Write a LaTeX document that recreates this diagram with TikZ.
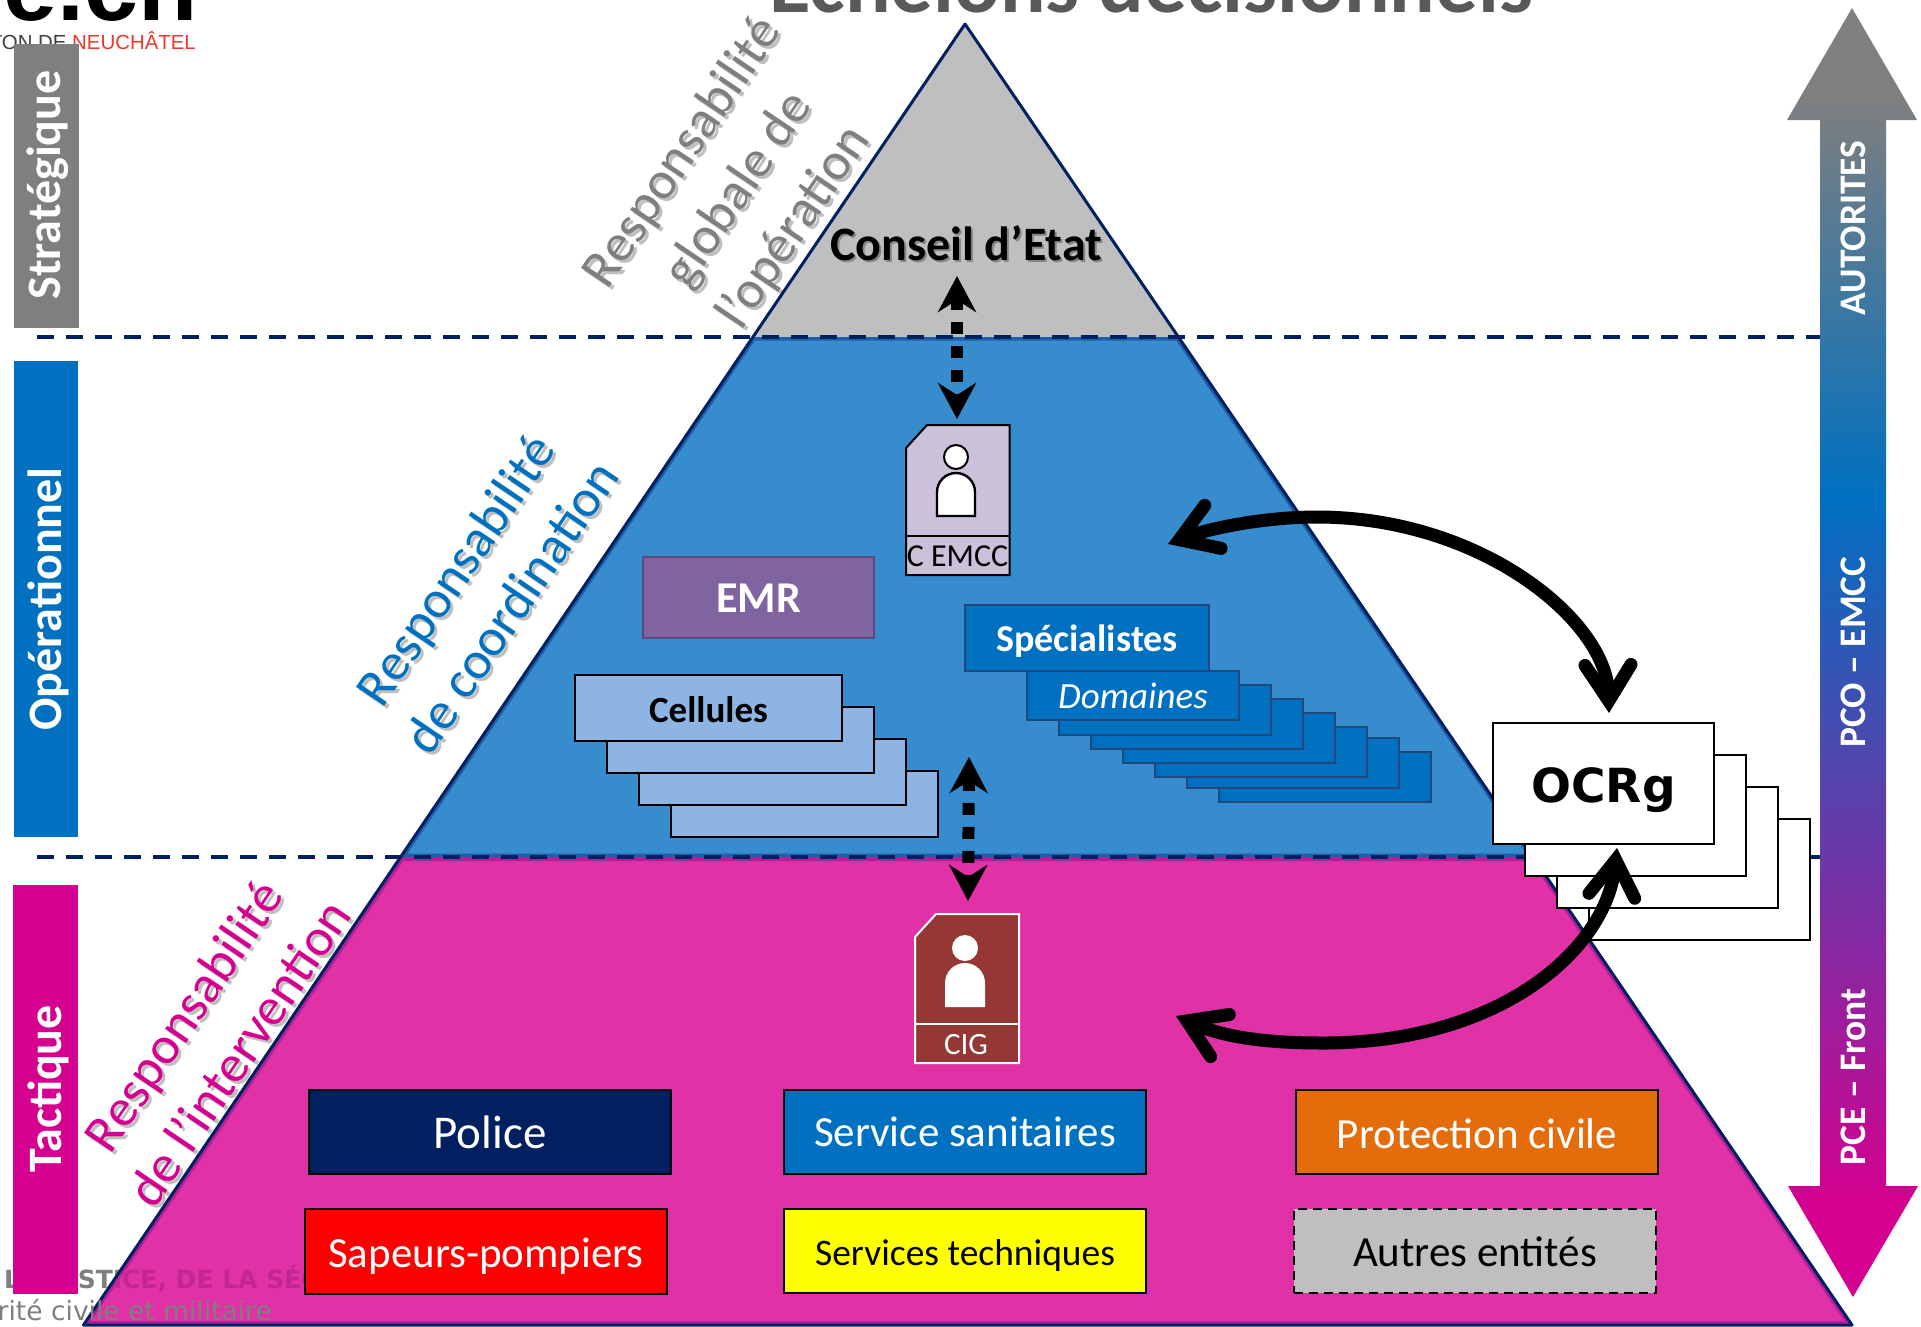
\documentclass[tikz,border=0pt]{standalone}
\usepackage{fontspec}
\setmainfont{Carlito}
\newfontfamily\dvs{DejaVu Sans}
\newfontfamily\libs{Liberation Sans}
\usetikzlibrary{arrows.meta}
\definecolor{navy}{HTML}{002060}
\definecolor{gy}{HTML}{7F7F7F}
\definecolor{lgy}{HTML}{BFBFBF}
\definecolor{bl}{HTML}{0070C0}
\definecolor{pk}{HTML}{D5008F}
\definecolor{midblue}{HTML}{368CCD}
\definecolor{midpink}{HTML}{E031A6}
\definecolor{edgepink}{HTML}{B0209A}
\definecolor{deptpink}{HTML}{C2268F}
\definecolor{edgeblue}{HTML}{1F5FA8}
\definecolor{stackedge}{HTML}{1F497D}
\definecolor{cell}{HTML}{8EB4E3}
\definecolor{lil}{HTML}{CCC1DA}
\definecolor{brick}{HTML}{953735}
\definecolor{emr}{HTML}{8064A2}
\definecolor{emredge}{HTML}{5F497A}
\definecolor{orng}{HTML}{E46C0A}
\definecolor{pureyellow}{HTML}{FFFF00}
\definecolor{purered}{HTML}{FF0000}
\definecolor{logored}{HTML}{E8392D}
\pgfdeclareverticalshading{vgrad}{100bp}{color(0bp)=(pk); color(28.5bp)=(pk); color(56bp)=(bl); color(71.5bp)=(gy); color(100bp)=(gy)}
\newcommand{\fsz}[1]{\fontsize{#1}{#1}\selectfont}
\newcommand{\tall}[1]{\rule{0pt}{#1pt}}
\tikzset{
  x=1pt,y=-1pt,
  zone/.style={inner sep=0pt,outer sep=0pt},
  sidebar/.style={text=white,font=\fsz{48}\bfseries,rotate=90,inner sep=0pt},
  axislabel/.style={text=white,font=\fsz{37.5}\bfseries,rotate=90,inner sep=0pt},
  level/.style={draw=navy,line width=3.6pt,dash pattern=on 17pt off 12pt},
  stackcell/.style={draw=black,line width=2pt,fill=cell},
  stackdom/.style={draw=stackedge,line width=2pt,fill=bl},
  stackocr/.style={draw=black,line width=2pt,fill=white},
  entity/.style={draw=black,line width=2.4pt,font=\fsz{43},inner sep=0pt},
  resp/.style={rotate=56,align=center,font=\fsz{53},inner sep=0pt},
  link/.style={line width=12pt,dash pattern=on 12pt off 12pt,{Stealth[length=36pt,width=38pt,inset=12pt]}-{Stealth[length=36pt,width=38pt,inset=12pt]}},
  bigarrow/.style={line width=13pt,{Straight Barb[length=36pt,width=46pt,line cap=round,line join=miter]}-{Straight Barb[length=36pt,width=46pt,line cap=round,line join=miter]}},
}
\begin{document}
\begin{tikzpicture}
\useasboundingbox (0,0) rectangle (1921,1326);
\clip (0,0) rectangle (1921,1326);
% logo
\node[anchor=base east,inner sep=0pt,font=\libs\bfseries\fsz{97}] (logo) at (198,20) {ne.ch};
\node[anchor=base east,inner sep=0pt,font=\libs\fsz{20.4}] (canton) at (196,49) {\textcolor{black!75}{CANTON DE }\textcolor{logored}{NEUCHÂTEL}};
% title
\node[anchor=base,inner sep=0pt,text=black!65,font=\fsz{85}\bfseries] (title) at (1151,12) {Echelons décisionnels};
% footer under the pyramid
\node[anchor=base west,inner sep=0pt,text=gy,font=\dvs\bfseries\fsz{25}] (dept) at (4,1288) {LA JUSTICE, DE LA SÉCURITÉ};
% pyramid
\coordinate (apex) at (965,24);
\coordinate (gl) at (753,337);
\coordinate (gr) at (1178,337);
\coordinate (bl1) at (401,857);
\coordinate (br1) at (1533,857);
\coordinate (bl2) at (83.5,1325);
\coordinate (br2) at (1852,1325);
\fill[lgy] (apex) -- (gl) -- (gr) -- cycle;
\begin{scope}
\clip (gl) -- (gr) -- (br1) -- (bl1) -- cycle;
\draw[fill=midblue,draw=edgeblue,line width=7pt] (gl) -- (gr) -- (br1) -- (bl1) -- cycle;
\end{scope}
\begin{scope}
\clip (bl1) -- (br1) -- (br2) -- (bl2) -- cycle;
\draw[fill=midpink,draw=edgepink,line width=8pt] (bl1) -- (br1) -- (br2) -- (bl2) -- cycle;
\node[anchor=base west,inner sep=0pt,text=deptpink,font=\dvs\bfseries\fsz{25}] (deptb) at (4,1288) {LA JUSTICE, DE LA SÉCURITÉ};
\end{scope}
\draw[navy,line width=3pt,line join=round] (bl2) -- (apex) -- (br2) -- cycle;
\node[anchor=base east,inner sep=0pt,text=gy,font=\dvs\fsz{26.5}] (serv) at (272,1320) {rité civile et militaire};
% levels
\coordinate (d1a) at (37,337);
\coordinate (d1b) at (1825,337);
\coordinate (d2a) at (37,857);
\coordinate (d2b) at (1825,857);
\draw[level] (d1a) -- (d1b);
\draw[level] (d2a) -- (d2b);
% side bars
\fill[gy] (14,44) rectangle (79,328);
\fill[bl] (14,361) rectangle (78,837);
\fill[pk] (13,885) rectangle (78,1294);
\node[sidebar] (strat) at (48,185) {Stratégique};
\node[sidebar] (oper) at (48,599) {Opérationnel};
\node[sidebar] (tact) at (48,1089) {Tactique};
% side responsibility labels
\node[resp,text=black,opacity=.25] (r1s) at (742,193) {Responsabilité\\[14pt]globale de\\[14pt]l’opération};
\node[resp,text=gy] (r1) at (739,190) {Responsabilité\\[14pt]globale de\\[14pt]l’opération};
\node[resp,text=black,opacity=.25] (r2s) at (486,591) {Responsabilité\\[14pt]de coordination};
\node[resp,text=bl] (r2) at (483,588) {Responsabilité\\[14pt]de coordination};
\node[resp,text=black,opacity=.25] (r3s) at (214,1037) {Responsabilité\\[14pt]de l’intervention};
\node[resp,text=pk] (r3) at (211,1034) {Responsabilité\\[14pt]de l’intervention};
% Conseil d'Etat
\node[inner sep=0pt,text=black,opacity=.3,font=\fsz{48}\bfseries] (ces) at (968,245) {Conseil d’Etat};
\node[inner sep=0pt,text=black,font=\fsz{48}\bfseries] (ce) at (966,243) {Conseil d’Etat};
% C EMCC card
\draw[fill=lil,draw=black,line width=2pt] (906,448) -- (927,425) -- (1009.5,425) -- (1009.5,575) -- (906,575) -- cycle;
\draw[black,line width=2pt] (906,536) -- (1009.5,536);
\node[draw=black,fill=white,line width=2pt,circle,minimum size=24pt,inner sep=0pt] (ehead) at (956,457) {};
\draw[fill=white,draw=black,line width=2.4pt] (937,516) -- (937,492) arc[start angle=180,end angle=360,radius=19] -- (975,516) -- cycle;
\node[inner sep=0pt,font=\fsz{32}] (cemcc) at (957.5,556) {C EMCC};
% CIG card
\draw[fill=brick,draw=white,line width=2pt] (915,937) -- (936,914) -- (1019,914) -- (1019,1063) -- (915,1063) -- cycle;
\draw[white,line width=2pt] (915,1024) -- (1019,1024);
\node[fill=white,circle,minimum size=26pt,inner sep=0pt] (chead) at (965,948) {};
\fill[white] (945,1007) -- (945,983) arc[start angle=180,end angle=360,radius=20] -- (985,1007) -- cycle;
\node[inner sep=0pt,text=white,font=\fsz{31}] (cig) at (966,1045) {CIG};
% EMR
\node[zone,fill=emr,draw=emredge,line width=2pt,minimum width=231pt,minimum height=81pt,text=white,font=\fsz{44}\bfseries] (emrbox) at (758.5,597.5) {\tall{30}EMR};
% Cellules
\draw[stackcell] (671,771) rectangle (938,837);
\draw[stackcell] (639,739) rectangle (906,805);
\draw[stackcell] (607,707) rectangle (874,773);
\node[zone,stackcell,minimum width=267pt,minimum height=66pt,text=black,font=\fsz{37}\bfseries] (cell1) at (708.5,708) {\tall{29}Cellules};
% Domaines
\draw[stackdom] (1219,752) rectangle (1431,802);
\draw[stackdom] (1187,738) rectangle (1399,788);
\draw[stackdom] (1155,727) rectangle (1367,777);
\draw[stackdom] (1123,713) rectangle (1335,763);
\draw[stackdom] (1091,699) rectangle (1303,749);
\draw[stackdom] (1059,685) rectangle (1271,735);
\node[zone,stackdom,minimum width=212pt,minimum height=49pt,text=white,font=\fsz{37}\itshape] (dom) at (1133,695.5) {Domaines};
\node[zone,stackdom,minimum width=244pt,minimum height=66pt,text=white,font=\fsz{38}\bfseries] (spec) at (1087,638) {\tall{33}Spécialistes};
% OCRg
\draw[stackocr] (1589,819) rectangle (1810,940);
\draw[stackocr] (1557,787) rectangle (1778,908);
\draw[stackocr] (1525,755) rectangle (1746,876);
\node[zone,stackocr,minimum width=221pt,minimum height=121pt,font=\dvs\bfseries\fsz{47}] (ocr) at (1603.5,783.5) {\tall{48}OCRg};
% entities
\node[entity,fill=navy,text=white,minimum width=362pt,minimum height=84pt,font=\fsz{47}] (pol) at (490,1132) {Police};
\node[entity,fill=bl,text=white,minimum width=362pt,minimum height=84pt] (san) at (965,1132) {\tall{30}Service sanitaires};
\node[entity,fill=orng,text=white,minimum width=362pt,minimum height=84pt] (pci) at (1477,1132) {\tall{33}Protection civile};
\node[entity,fill=purered,text=white,minimum width=362pt,minimum height=85pt] (sap) at (486,1251.5) {\tall{38}Sapeurs-pompiers};
\node[entity,fill=pureyellow,text=black,minimum width=362pt,minimum height=84pt,font=\fsz{37.5}] (tech) at (965,1251) {\tall{35}Services techniques};
\node[entity,fill=lgy,text=black,dash pattern=on 9pt off 6pt,minimum width=362pt,minimum height=84pt] (aut) at (1475,1251) {\tall{32}Autres entités};
% vertical arrow
\path[shading=vgrad] (1852,8) -- (1917,120) -- (1886,120) -- (1886,1186) -- (1918,1186) -- (1853,1297) -- (1788,1186) -- (1820,1186) -- (1820,120) -- (1787,120) -- cycle;
\node[axislabel] (aut1) at (1853,228) {AUTORITES};
\node[axislabel] (aut2) at (1853,652) {PCO – EMCC};
\node[axislabel] (aut3) at (1853,1077) {PCE – Front};
% dotted links
\coordinate (l1a) at (957,276);
\coordinate (l1b) at (957,419);
\coordinate (l2a) at (969,757);
\coordinate (l2b) at (968,901);
\draw[link] (l1a) -- (l1b);
\draw[link] (l2a) -- (l2b);
% big arrows
\coordinate (a1) at (1609,713);
\coordinate (a2) at (1168,544);
\coordinate (a3) at (1617,848);
\coordinate (a4) at (1176,1016);
\draw[bigarrow] (a1) .. controls (1607,620) and (1480,517) .. (1317,517) .. controls (1265,517) and (1210,528) .. (a2);
\draw[bigarrow] (a3) .. controls (1606,950) and (1500,1043) .. (1323,1043) .. controls (1280,1043) and (1230,1040) .. (a4);
\end{tikzpicture}
\end{document}
